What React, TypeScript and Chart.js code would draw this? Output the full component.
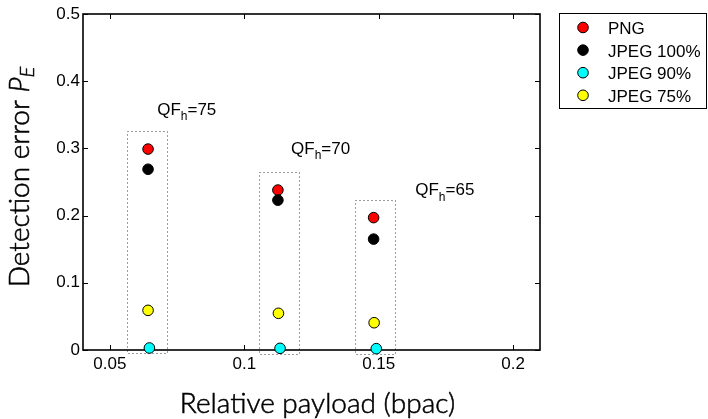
import React, { useEffect, useRef } from "react";
import { Chart, registerables } from "chart.js";
Chart.register(...registerables);

const seriesNames = ["PNG", "JPEG 100%", "JPEG 90%", "JPEG 75%"];
const seriesColors = ["#ff0000", "#000000", "#00ffff", "#ffff00"];
const pngX = [0.0642, 0.1125, 0.1481];
const pngY = [0.299, 0.238, 0.197];
const jpeg100X = [0.0642, 0.1125, 0.1481];
const jpeg100Y = [0.269, 0.223, 0.165];
const jpeg90X = [0.0647, 0.1133, 0.1491];
const jpeg90Y = [0.003, 0.0025, 0.002];
const jpeg75X = [0.0642, 0.1127, 0.1483];
const jpeg75Y = [0.059, 0.0546, 0.0406];

const xTicks = [0.05, 0.1, 0.15, 0.2];
const xTickLabels = ["0.05", "0.1", "0.15", "0.2"];
const yTicks = [0, 0.1, 0.2, 0.3, 0.4, 0.5];
const yTickLabels = ["0", "0.1", "0.2", "0.3", "0.4", "0.5"];

const qfValues = ["75", "70", "65"];
const qfLabelX = [0.0676, 0.1174, 0.1636];
const qfLabelY = [0.357, 0.299, 0.237];
const boxLeft = [0.0563, 0.1056, 0.1413];
const boxRight = [0.0711, 0.1205, 0.1559];
const boxBottom = [-0.005, -0.006, -0.006];
const boxTop = [0.326, 0.265, 0.223];

const xTitle = "Relative payload (bpac)";
const yTitle = "Detection error ";

const SANS = "'Liberation Sans', Arial, sans-serif";
const TITLE = "Lato, 'DejaVu Sans', sans-serif";

type Part = { t: string; font: string; dy?: number };

function richWidth(ctx: CanvasRenderingContext2D, parts: Part[]) {
  let w = 0;
  for (const p of parts) {
    ctx.font = p.font;
    w += ctx.measureText(p.t).width;
  }
  return w;
}
function drawRich(ctx: CanvasRenderingContext2D, parts: Part[], x: number, y: number, stroke = false) {
  let cx = x;
  for (const p of parts) {
    ctx.font = p.font;
    ctx.fillText(p.t, cx, y + (p.dy || 0));
    if (stroke) ctx.strokeText(p.t, cx, y + (p.dy || 0));
    cx += ctx.measureText(p.t).width;
  }
}

const decorPlugin = {
  id: "decor",
  beforeDatasetsDraw(chart: any) {
    const ctx: CanvasRenderingContext2D = chart.ctx;
    const xs = chart.scales.x;
    const ys = chart.scales.y;
    const a = chart.chartArea;
    ctx.save();
    // dotted boxes
    ctx.strokeStyle = "#3a3a3a";
    ctx.lineWidth = 1;
    ctx.setLineDash([1, 3]);
    for (let i = 0; i < boxLeft.length; i++) {
      const l = Math.round(xs.getPixelForValue(boxLeft[i])) + 0.5;
      const r = Math.round(xs.getPixelForValue(boxRight[i])) + 0.5;
      const t = Math.round(ys.getPixelForValue(boxTop[i])) + 0.5;
      const b = Math.round(ys.getPixelForValue(boxBottom[i])) + 0.5;
      ctx.strokeRect(l, t, r - l, b - t);
    }
    ctx.setLineDash([]);
    // frame
    ctx.strokeStyle = "#000";
    ctx.lineWidth = 1.6;
    ctx.strokeRect(a.left, a.top, a.right - a.left, a.bottom - a.top);
    // ticks (inward, on all sides)
    ctx.lineWidth = 1;
    const tl = 5;
    ctx.beginPath();
    for (const v of xTicks) {
      const px = Math.round(xs.getPixelForValue(v)) + 0.5;
      ctx.moveTo(px, a.bottom);
      ctx.lineTo(px, a.bottom - tl);
      ctx.moveTo(px, a.top);
      ctx.lineTo(px, a.top + tl);
    }
    for (const v of yTicks) {
      const py = Math.round(ys.getPixelForValue(v)) + 0.5;
      ctx.moveTo(a.left, py);
      ctx.lineTo(a.left + tl, py);
      ctx.moveTo(a.right, py);
      ctx.lineTo(a.right - tl, py);
    }
    ctx.stroke();
    ctx.restore();
  },
  afterDraw(chart: any) {
    const ctx: CanvasRenderingContext2D = chart.ctx;
    const xs = chart.scales.x;
    const ys = chart.scales.y;
    const a = chart.chartArea;
    ctx.save();
    ctx.fillStyle = "#000";
    // QF annotations
    ctx.textBaseline = "middle";
    ctx.textAlign = "left";
    for (let i = 0; i < qfValues.length; i++) {
      const px = xs.getPixelForValue(qfLabelX[i]);
      const py = ys.getPixelForValue(qfLabelY[i]);
      drawRich(
        ctx,
        [
          { t: "QF", font: `17px ${SANS}` },
          { t: "h", font: `12px ${SANS}`, dy: 7 },
          { t: "=" + qfValues[i], font: `17px ${SANS}` },
        ],
        px,
        py
      );
    }
    // x title (light face, slightly thickened)
    const s = 28;
    ctx.strokeStyle = "#000";
    ctx.lineWidth = 0.55;
    ctx.textAlign = "center";
    ctx.textBaseline = "middle";
    ctx.font = `300 ${s}px ${TITLE}`;
    const tx = (a.left + a.right) / 2 + 6;
    ctx.fillText(xTitle, tx, 404);
    ctx.strokeText(xTitle, tx, 404);
    // y title
    const parts: Part[] = [
      { t: yTitle, font: `300 ${s}px ${TITLE}` },
      { t: "P", font: `italic 300 ${s}px ${TITLE}` },
      { t: "E", font: `italic 300 ${Math.round(s * 0.72)}px ${TITLE}`, dy: s * 0.28 },
    ];
    ctx.save();
    ctx.translate(20, (a.top + a.bottom) / 2 - 5);
    ctx.rotate(-Math.PI / 2);
    ctx.textAlign = "left";
    const w = richWidth(ctx, parts);
    drawRich(ctx, parts, -w / 2, 0, true);
    ctx.restore();
    // legend
    ctx.strokeStyle = "#000";
    ctx.lineWidth = 1;
    ctx.strokeRect(559.5, 13.5, 147, 95);
    ctx.textAlign = "left";
    ctx.textBaseline = "alphabetic";
    ctx.font = `17px ${SANS}`;
    chart.data.datasets.forEach((ds: any, i: number) => {
      const cy = 27.5 + i * 22.6;
      ctx.beginPath();
      ctx.arc(583, cy, 5.3, 0, Math.PI * 2);
      ctx.fillStyle = ds.backgroundColor;
      ctx.fill();
      ctx.strokeStyle = "#000";
      ctx.stroke();
      ctx.fillStyle = "#000";
      ctx.fillText(ds.label, 608, cy + 6.5);
    });
    ctx.restore();
  },
};

export default function App() {
  const ref = useRef<HTMLCanvasElement | null>(null);
  useEffect(() => {
    if (!ref.current) return;
    const xsArr = [pngX, jpeg100X, jpeg90X, jpeg75X];
    const ysArr = [pngY, jpeg100Y, jpeg90Y, jpeg75Y];
    const chart = new Chart(ref.current, {
      type: "scatter",
      data: {
        datasets: seriesNames.map((name, i) => ({
          label: name,
          data: xsArr[i].map((x, j) => ({ x, y: ysArr[i][j] })),
          backgroundColor: seriesColors[i],
          borderColor: "#000",
          borderWidth: 1,
          pointRadius: 5.3,
          pointHoverRadius: 5.3,
          clip: false,
          order: seriesNames.length - i,
        })),
      },
      options: {
        animation: false,
        responsive: false,
        maintainAspectRatio: false,
        events: [],
        layout: { padding: { left: 0, top: 14, right: 168, bottom: 0 } },
        plugins: { legend: { display: false }, tooltip: { enabled: false } },
        scales: {
          x: {
            type: "linear",
            min: 0.04,
            max: 0.21,
            afterBuildTicks: (s: any) => {
              s.ticks = xTicks.map((v) => ({ value: v }));
            },
            afterFit: (s: any) => {
              s.height = 69;
            },
            grid: { display: false, drawTicks: false },
            border: { display: false },
            ticks: {
              callback: (_v: any, i: number) => xTickLabels[i],
              font: { family: SANS, size: 17 },
              color: "#000",
              padding: 4,
              maxRotation: 0,
              autoSkip: false,
            },
          },
          y: {
            type: "linear",
            min: 0,
            max: 0.5,
            afterBuildTicks: (s: any) => {
              s.ticks = yTicks.map((v) => ({ value: v }));
            },
            afterFit: (s: any) => {
              s.width = 83;
            },
            grid: { display: false, drawTicks: false },
            border: { display: false },
            ticks: {
              callback: (_v: any, i: number) => yTickLabels[i],
              font: { family: SANS, size: 17 },
              color: "#000",
              padding: 3,
              autoSkip: false,
            },
          },
        },
      },
      plugins: [decorPlugin],
    });
    return () => chart.destroy();
  }, []);
  return (
    <div style={{ position: "absolute", left: 0, top: 0, width: 708, height: 419, background: "#fff" }}>
      <canvas ref={ref} width={708} height={419} style={{ display: "block" }} />
    </div>
  );
}
